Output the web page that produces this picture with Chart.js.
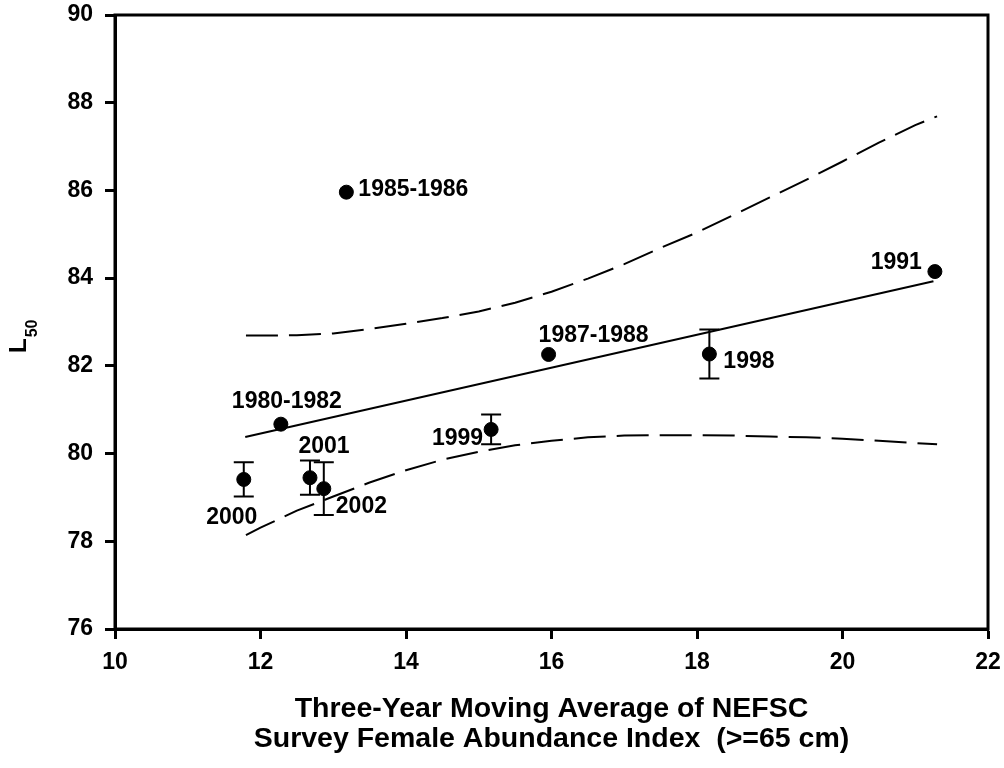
<!DOCTYPE html>
<html>
<head>
<meta charset="utf-8">
<script src="https://cdn.jsdelivr.net/npm/chart.js@4.4.1/dist/chart.umd.min.js"></script>
<style>
  html, body { margin: 0; padding: 0; background: #fff; }
  #wrap { width: 1004px; height: 768px; }
</style>
</head>
<body>
<div id="wrap"><canvas id="l50Chart" width="1004" height="768"></canvas></div>
<script>
const years = ["1980-1982", "1985-1986", "1987-1988", "1991", "1998", "1999", "2000", "2001", "2002"];
const abundance = [12.28, 13.18, 15.96, 21.27, 18.17, 15.17, 11.77, 12.68, 12.87];
const l50 = [80.67, 85.96, 82.26, 84.15, 82.27, 80.55, 79.41, 79.45, 79.2];
const l50Err = [null, null, null, null, 0.56, 0.34, 0.39, 0.39, 0.6];

// Regression line
const fitX = [11.79, 21.25];
const fitY = [80.38, 83.93];

// Confidence band (dashed curves)
const bandX = [11.8, 12.0, 12.5, 13.0, 13.5, 14.0, 14.5, 15.0, 15.5, 16.0, 16.5, 17.0, 17.5, 18.0, 18.5, 19.0, 19.5, 20.0, 20.5, 21.0, 21.3];
const upperBand = [82.69, 82.69, 82.70, 82.74, 82.84, 82.96, 83.09, 83.24, 83.44, 83.69, 83.99, 84.32, 84.69, 85.04, 85.44, 85.84, 86.24, 86.66, 87.09, 87.49, 87.69];
const lowerBand = [78.14, 78.31, 78.70, 79.02, 79.34, 79.62, 79.86, 80.04, 80.19, 80.29, 80.37, 80.41, 80.42, 80.42, 80.41, 80.39, 80.37, 80.34, 80.29, 80.24, 80.21];

// Axis ticks
const xTicks = [10, 12, 14, 16, 18, 20, 22];
const yTicks = [76, 78, 80, 82, 84, 86, 88, 90];

const FONT = "'Liberation Sans', Arial, sans-serif";

// where each year label sits relative to its dot (pixels)
const labelPlacement = {
  "1980-1982": { dx: 6, dy: -23, align: "center" },
  "1985-1986": { dx: 12, dy: -3, align: "left" },
  "1987-1988": { dx: 45, dy: -19, align: "center" },
  "1991": { dx: -13, dy: -9, align: "right" },
  "1998": { dx: 14, dy: 8, align: "left" },
  "1999": { dx: -8, dy: 9, align: "right" },
  "2000": { dx: -12, dy: 38, align: "center" },
  "2001": { dx: 14, dy: -31, align: "center" },
  "2002": { dx: 12, dy: 18, align: "left" },
};

const toXY = (xs, ys) => xs.map((x, i) => ({ x: x, y: ys[i] }));

// error bars for the later years
const errorBars = {
  id: "errorBars",
  afterDatasetsDraw(chart) {
    const { ctx, scales: { x, y } } = chart;
    ctx.save();
    ctx.strokeStyle = "#000";
    ctx.lineWidth = 2;
    l50Err.forEach((e, i) => {
      if (e == null) return;
      const px = x.getPixelForValue(abundance[i]);
      const top = y.getPixelForValue(l50[i] + e);
      const bot = y.getPixelForValue(l50[i] - e);
      ctx.beginPath();
      ctx.moveTo(px, top); ctx.lineTo(px, bot);
      ctx.moveTo(px - 10, top); ctx.lineTo(px + 10, top);
      ctx.moveTo(px - 10, bot); ctx.lineTo(px + 10, bot);
      ctx.stroke();
    });
    ctx.restore();
  },
};

// year labels next to the dots
const pointLabels = {
  id: "pointLabels",
  afterDatasetsDraw(chart) {
    const { ctx, scales: { x, y } } = chart;
    ctx.save();
    ctx.fillStyle = "#000";
    ctx.font = "bold 23px " + FONT;
    ctx.textBaseline = "middle";
    years.forEach((yr, i) => {
      const p = labelPlacement[yr];
      ctx.textAlign = p.align;
      ctx.fillText(yr, x.getPixelForValue(abundance[i]) + p.dx, y.getPixelForValue(l50[i]) + p.dy);
    });
    ctx.restore();
  },
};

// box round the plot + the L50 axis title
const frame = {
  id: "frame",
  afterDraw(chart) {
    const { ctx, chartArea: a } = chart;
    ctx.save();
    ctx.strokeStyle = "#000";
    ctx.lineWidth = 3;
    ctx.strokeRect(a.left, a.top, a.right - a.left, a.bottom - a.top);

    ctx.fillStyle = "#000";
    ctx.translate(26, 353);
    ctx.rotate(-Math.PI / 2);
    ctx.textAlign = "left";
    ctx.textBaseline = "alphabetic";
    ctx.font = "bold 24px " + FONT;
    ctx.fillText("L", 0, 0);
    const w = ctx.measureText("L").width;
    ctx.font = "bold 16px " + FONT;
    ctx.fillText("50", w + 1, 11);
    ctx.restore();
  },
};

new Chart(document.getElementById("l50Chart"), {
  type: "scatter",
  data: {
    datasets: [
      {
        label: "L50",
        data: toXY(abundance, l50),
        backgroundColor: "#000",
        borderColor: "#000",
        pointRadius: 7,
        pointHoverRadius: 7,
      },
      {
        label: "Fit",
        data: toXY(fitX, fitY),
        showLine: true,
        borderColor: "#000",
        borderWidth: 2,
        pointRadius: 0,
      },
      {
        label: "Upper",
        data: toXY(bandX, upperBand),
        showLine: true,
        borderColor: "#000",
        borderWidth: 2,
        borderDash: [32, 11],
        pointRadius: 0,
      },
      {
        label: "Lower",
        data: toXY(bandX, lowerBand),
        showLine: true,
        borderColor: "#000",
        borderWidth: 2,
        borderDash: [32, 11],
        pointRadius: 0,
      },
    ],
  },
  options: {
    responsive: false,
    animation: false,
    devicePixelRatio: 1,
    layout: { padding: { top: 15, right: 16, left: 0, bottom: 0 } },
    plugins: {
      legend: { display: false },
      tooltip: { enabled: false },
    },
    scales: {
      x: {
        type: "linear",
        min: xTicks[0],
        max: xTicks[xTicks.length - 1],
        afterBuildTicks: (s) => { s.ticks = xTicks.map((v) => ({ value: v })); },
        afterFit: (s) => {
          s.height = 139;
          s.paddingLeft = 0;
          s.paddingRight = 0;
        },
        grid: { drawOnChartArea: false, drawTicks: true, tickLength: 10, tickWidth: 3, tickColor: "#000" },
        border: { color: "#000", width: 3 },
        ticks: { color: "#000", padding: 10, font: { family: FONT, size: 23, weight: "bold" } },
        title: {
          display: true,
          text: ["Three-Year Moving Average of NEFSC", "Survey Female Abundance Index  (>=65 cm)"],
          color: "#000",
          font: { family: FONT, size: 28.5, weight: "bold", lineHeight: "30px" },
          padding: { top: 0, bottom: 14 },
        },
      },
      y: {
        type: "linear",
        min: yTicks[0],
        max: yTicks[yTicks.length - 1],
        afterBuildTicks: (s) => { s.ticks = yTicks.map((v) => ({ value: v })); },
        afterFit: (s) => {
          s.width = 115;
          s.paddingTop = 0;
          s.paddingBottom = 0;
        },
        grid: { drawOnChartArea: false, drawTicks: true, tickLength: 10, tickWidth: 3, tickColor: "#000" },
        border: { color: "#000", width: 3 },
        ticks: { color: "#000", padding: 12, font: { family: FONT, size: 23, weight: "bold" } },
      },
    },
  },
  plugins: [errorBars, pointLabels, frame],
});
</script>
</body>
</html>
